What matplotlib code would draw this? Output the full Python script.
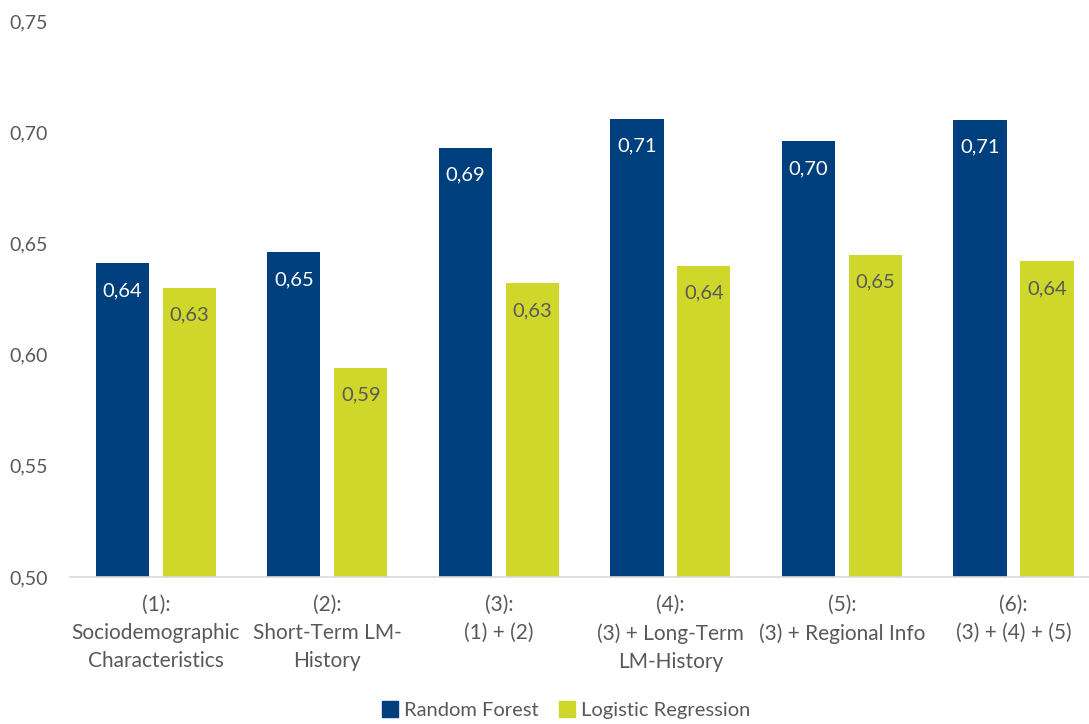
import matplotlib
matplotlib.use("Agg")
import matplotlib.pyplot as plt
from matplotlib.patches import Patch
import numpy as np

plt.rcParams['font.family'] = ['Lato', 'DejaVu Sans']

categories = ["(1):\nSociodemographic\nCharacteristics",
              "(2):\nShort-Term LM-\nHistory",
              "(3):\n(1) + (2)",
              "(4):\n(3) + Long-Term\nLM-History",
              "(5):\n(3) + Regional Info",
              "(6):\n(3) + (4) + (5)"]
random_forest = [0.641, 0.646, 0.693, 0.706, 0.696, 0.7055]
logistic_regression = [0.630, 0.594, 0.632, 0.640, 0.645, 0.642]
yticks = [0.50, 0.55, 0.60, 0.65, 0.70, 0.75]

blue = '#003f7d'
green = '#cfd72b'
grey = '#595959'

fig = plt.figure(figsize=(10.89, 7.24), dpi=100)
ax = fig.add_axes([70 / 1089, 1 - 577 / 724, (1089 - 70) / 1089, 556 / 724])

x = np.arange(len(categories))
w = 0.31
off = 0.195
b1 = ax.bar(x - off, random_forest, w, color=blue)
b2 = ax.bar(x + off, logistic_regression, w, color=green)

# value labels just inside the top of each bar
for rect, v in zip(b1, random_forest):
    ax.text(rect.get_x() + rect.get_width() / 2, v - 0.0085, f"{v:.2f}".replace('.', ','),
            ha='center', va='top', color='white', fontsize=14.5)
for rect, v in zip(b2, logistic_regression):
    ax.text(rect.get_x() + rect.get_width() / 2, v - 0.0085, f"{v:.2f}".replace('.', ','),
            ha='center', va='top', color=grey, fontsize=14.5)

ax.set_ylim(0.50, 0.75)
ax.set_xlim(-0.5, 5.44)
ax.set_yticks(yticks)
ax.set_yticklabels([f"{t:.2f}".replace('.', ',') for t in yticks], color=grey, fontsize=14)
ax.set_xticks(x)
ax.set_xticklabels(categories, color=grey, fontsize=15, linespacing=1.5)
ax.tick_params(axis='both', length=0)
ax.tick_params(axis='y', pad=16)
ax.tick_params(axis='x', pad=13)
for s in ['top', 'right', 'left']:
    ax.spines[s].set_visible(False)
ax.spines['bottom'].set_color('#d9d9d9')
ax.spines['bottom'].set_linewidth(1.2)

handles = [Patch(color=blue, label='Random Forest'), Patch(color=green, label='Logistic Regression')]
fig.legend(handles=handles, loc='lower center', bbox_to_anchor=(0.52, -0.018), ncol=2, frameon=False,
           fontsize=14.5, handlelength=0.8, handleheight=0.8, handletextpad=0.3, columnspacing=1.0,
           labelcolor=grey)

fig.savefig("out.png", dpi=100)
